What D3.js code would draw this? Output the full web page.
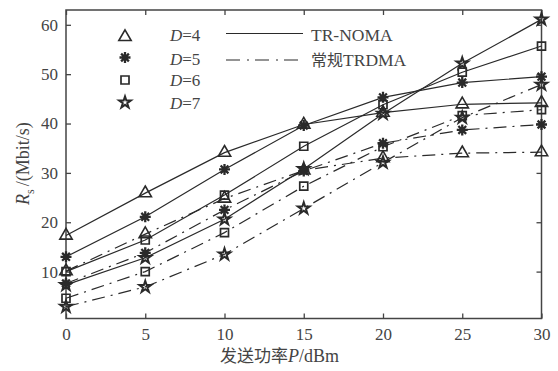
<!DOCTYPE html>
<html><head><meta charset="utf-8">
<script src="https://cdn.jsdelivr.net/npm/d3@7"></script>
<style>
body{margin:0;background:#fff;}
text{font-family:"Liberation Serif","Times New Roman",serif;fill:#444;}
</style></head>
<body><svg id="chart" width="558" height="371"></svg>
<script>
const powers = [0, 5, 10, 15, 20, 25, 30];
const xTicks = [0, 5, 10, 15, 20, 25, 30];
const yTicks = [10, 20, 30, 40, 50, 60];
const dLabels = ["4", "5", "6", "7"];
const noma_D4 = [17.3, 25.9, 34.1, 39.8, 42.2, 43.9, 44.2];
const noma_D5 = [13.0, 21.1, 30.7, 39.6, 45.3, 48.3, 49.5];
const noma_D6 = [10.0, 16.4, 25.5, 35.4, 43.8, 50.4, 55.7];
const noma_D7 = [7.3, 12.8, 20.6, 30.8, 42.0, 52.2, 61.1];
const tdma_D4 = [10.1, 17.6, 24.8, 30.5, 33.0, 34.0, 34.2];
const tdma_D5 = [7.6, 13.8, 22.5, 30.4, 36.0, 38.7, 39.8];
const tdma_D6 = [4.6, 10.0, 17.9, 27.3, 35.3, 41.6, 42.8];
const tdma_D7 = [2.9, 6.9, 13.5, 22.8, 32.1, 41.2, 47.9];
const schemes = ["TR-NOMA", "常规TRDMA"];

const svg = d3.select("#chart");
const L = 66, R = 541.5, T = 10, B = 318.5;
const x = d3.scaleLinear().domain([0, 30]).range([L, R]);
const y = d3.scaleLinear().domain([0.5, 63]).range([B, T]);
const ink = "#2a2a2a";

// axes
const gx = svg.append("g").attr("transform", `translate(0,${B})`)
  .call(d3.axisBottom(x).tickValues(xTicks).tickSizeInner(-5).tickSizeOuter(0).tickPadding(9));
const gxt = svg.append("g").attr("transform", `translate(0,${T})`)
  .call(d3.axisTop(x).tickValues(xTicks).tickSizeInner(-5).tickSizeOuter(0).tickFormat(""));
const gy = svg.append("g").attr("transform", `translate(${L},0)`)
  .call(d3.axisLeft(y).tickValues(yTicks).tickSizeInner(-5).tickSizeOuter(0).tickPadding(8));
const gyr = svg.append("g").attr("transform", `translate(${R},0)`)
  .call(d3.axisRight(y).tickValues(yTicks).tickSizeInner(-5).tickSizeOuter(0).tickFormat(""));
[gx, gxt, gy, gyr].forEach(g => {
  g.select(".domain").remove();
  g.selectAll("line").attr("stroke", "#444").attr("stroke-width", 1.3);
  g.selectAll("text").style("font-family", '"Liberation Serif",serif').style("font-size", "17px").attr("fill", "#444");
});
svg.append("rect").attr("x", L).attr("y", T).attr("width", R - L).attr("height", B - T)
  .attr("fill", "none").attr("stroke", "#444").attr("stroke-width", 1.5);

// markers
const asteriskPath = (r) => {
  const d = r * Math.SQRT1_2;
  return `M${-r},0L${r},0M0,${-r}L0,${r}M${-d},${-d}L${d},${d}M${-d},${d}L${d},${-d}`;
};
const markers = [
  d3.symbol().type(d3.symbolTriangle).size(66)(),
  asteriskPath(5.5),
  d3.symbol().type(d3.symbolSquare).size(64)(),
  d3.symbol().type(d3.symbolStar).size(42)()
];
const markerWidth = [1.6, 2.3, 1.7, 2.0];

const nomaSeries = [noma_D4, noma_D5, noma_D6, noma_D7];
const tdmaSeries = [tdma_D4, tdma_D5, tdma_D6, tdma_D7];
const line = d3.line().x((d, i) => x(powers[i])).y(d => y(d));
const dashDot = "13,6,2,6";

const plot = svg.append("g");
tdmaSeries.forEach((s, k) => {
  plot.append("path").attr("d", line(s)).attr("fill", "none").attr("stroke", ink)
    .attr("stroke-width", 1.2).attr("stroke-dasharray", dashDot);
});
nomaSeries.forEach((s, k) => {
  plot.append("path").attr("d", line(s)).attr("fill", "none").attr("stroke", ink).attr("stroke-width", 1.2);
});
[...nomaSeries, ...tdmaSeries].forEach((s, idx) => {
  const k = idx % 4;
  plot.selectAll(null).data(s).enter().append("path")
    .attr("d", markers[k])
    .attr("transform", (d, i) => `translate(${x(powers[i])},${y(d)})`)
    .attr("fill", "none").attr("stroke", ink).attr("stroke-width", markerWidth[k]);
});

// legend
const leg = svg.append("g");
const rowsM = [37, 57.5, 80, 102.5];
const rowsT = [41, 64.5, 86, 108.5];
dLabels.forEach((d, k) => {
  leg.append("path").attr("d", markers[k]).attr("transform", `translate(125,${rowsM[k]})`)
    .attr("fill", "none").attr("stroke", ink).attr("stroke-width", markerWidth[k]);
  const t = leg.append("text").attr("x", 170).attr("y", rowsT[k]).style("font-size", "17px");
  t.append("tspan").style("font-style", "italic").text("D");
  t.append("tspan").text("=" + d);
});
leg.append("line").attr("x1", 226).attr("x2", 303).attr("y1", 33.5).attr("y2", 33.5)
  .attr("stroke", ink).attr("stroke-width", 1.2);
leg.append("line").attr("x1", 226).attr("x2", 303).attr("y1", 60).attr("y2", 60)
  .attr("stroke", ink).attr("stroke-width", 1.2).attr("stroke-dasharray", "14,7,2,6");
leg.append("text").attr("x", 311).attr("y", 40.5).style("font-size", "17.5px").text(schemes[0]);
const t2 = leg.append("text").attr("x", 311).attr("y", 65.5).style("font-size", "17.5px");
t2.append("tspan").style("font-family", '"Noto Sans CJK SC",sans-serif').style("font-size", "16px").text("常规");
t2.append("tspan").text("TRDMA");

// axis titles
const xt = svg.append("text").attr("x", 220).attr("y", 362).style("font-size", "18px");
xt.append("tspan").style("font-family", '"Noto Sans CJK SC",sans-serif').style("font-size", "17px").text("发送功率");
xt.append("tspan").style("font-style", "italic").text("P");
xt.append("tspan").text("/dBm");

const yt = svg.append("text").attr("transform", "translate(29,205) rotate(-90)").style("font-size", "18px");
yt.append("tspan").style("font-style", "italic").text("R");
yt.append("tspan").attr("dy", 5).style("font-size", "12px").text("s");
yt.append("tspan").attr("dy", -5).attr("dx", 3).text("/(Mbit/s)");
</script></body></html>
